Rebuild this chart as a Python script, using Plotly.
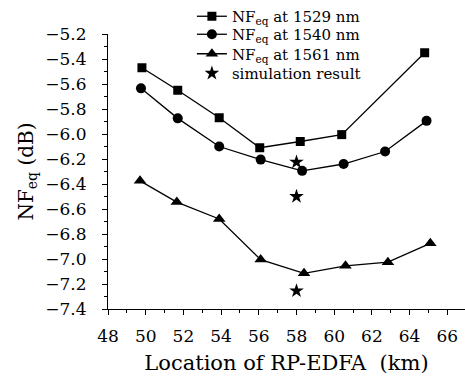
import plotly.graph_objects as go

x_1529 = [49.8, 51.7, 53.9, 56.05, 58.2, 60.4, 64.8]
nf_1529 = [-5.47, -5.65, -5.87, -6.11, -6.06, -6.005, -5.35]

x_1540 = [49.75, 51.7, 53.9, 56.1, 58.3, 60.5, 62.7, 64.9]
nf_1540 = [-5.635, -5.875, -6.10, -6.205, -6.295, -6.24, -6.14, -5.895]

x_1561 = [49.7, 51.65, 53.9, 56.1, 58.4, 60.6, 62.85, 65.1]
nf_1561 = [-6.375, -6.545, -6.68, -7.005, -7.115, -7.055, -7.025, -6.875]

x_sim = [58.0, 58.0, 58.0]
nf_sim = [-6.225, -6.50, -7.255]

names = ["NF<sub>eq</sub> at 1529 nm", "NF<sub>eq</sub> at 1540 nm",
         "NF<sub>eq</sub> at 1561 nm", "simulation result"]

FONT = "DejaVu Serif"

fig = go.Figure()
fig.add_trace(go.Scatter(x=x_1529, y=nf_1529, mode="lines+markers", name=names[0],
                         legend="legend",
                         line=dict(color="black", width=1.3),
                         marker=dict(symbol="square", size=9, color="black")))
fig.add_trace(go.Scatter(x=x_1540, y=nf_1540, mode="lines+markers", name=names[1],
                         legend="legend2",
                         line=dict(color="black", width=1.3),
                         marker=dict(symbol="circle", size=10, color="black")))
fig.add_trace(go.Scatter(x=x_1561, y=nf_1561, mode="lines+markers", name=names[2],
                         legend="legend3",
                         line=dict(color="black", width=1.3),
                         marker=dict(symbol="triangle-up", size=11, color="black")))
fig.add_trace(go.Scatter(x=x_sim, y=nf_sim, mode="markers", name=names[3],
                         legend="legend4",
                         marker=dict(symbol="star", size=11, color="black")))

axis_common = dict(showline=True, linecolor="black", linewidth=1.2, showgrid=False,
                   zeroline=False, ticks="outside", ticklen=5, tickwidth=1.2,
                   tickcolor="black", tickfont=dict(family=FONT, size=17, color="black"),
                   mirror=False)

PLOT_TOP = 33
PLOT_H = 276


def leg(center_px):
    return dict(x=0.235, y=1 + (PLOT_TOP - center_px) / PLOT_H,
                xanchor="left", yanchor="middle",
                bgcolor="rgba(0,0,0,0)",
                font=dict(family=FONT, size=15, color="black"))


fig.update_layout(
    width=465, height=383,
    margin=dict(l=108, r=0, t=33, b=74),
    paper_bgcolor="white", plot_bgcolor="white",
    showlegend=True,
    legend=leg(15),
    legend2=leg(34.5),
    legend3=leg(54),
    legend4=leg(73.5),
    xaxis=dict(range=[48, 66.94], tickmode="linear", tick0=48, dtick=2,
               ticklabelstandoff=6,
               minor=dict(ticks="outside", ticklen=3, tickwidth=1, tickcolor="black", dtick=1),
               title=dict(text="Location of RP-EDFA  (km)", standoff=10,
                          font=dict(family=FONT, size=21, color="black")),
               **axis_common),
    yaxis=dict(range=[-7.4, -5.2], tickmode="linear", tick0=-7.4, dtick=0.2,
               tickformat=".1f", ticklabelstandoff=12,
               minor=dict(ticks="outside", ticklen=3, tickwidth=1, tickcolor="black", dtick=0.1),
               title=dict(text="NF<sub>eq</sub> (dB)", standoff=6,
                          font=dict(family=FONT, size=20, color="black")),
               **axis_common),
)

fig.write_html("out.html")
